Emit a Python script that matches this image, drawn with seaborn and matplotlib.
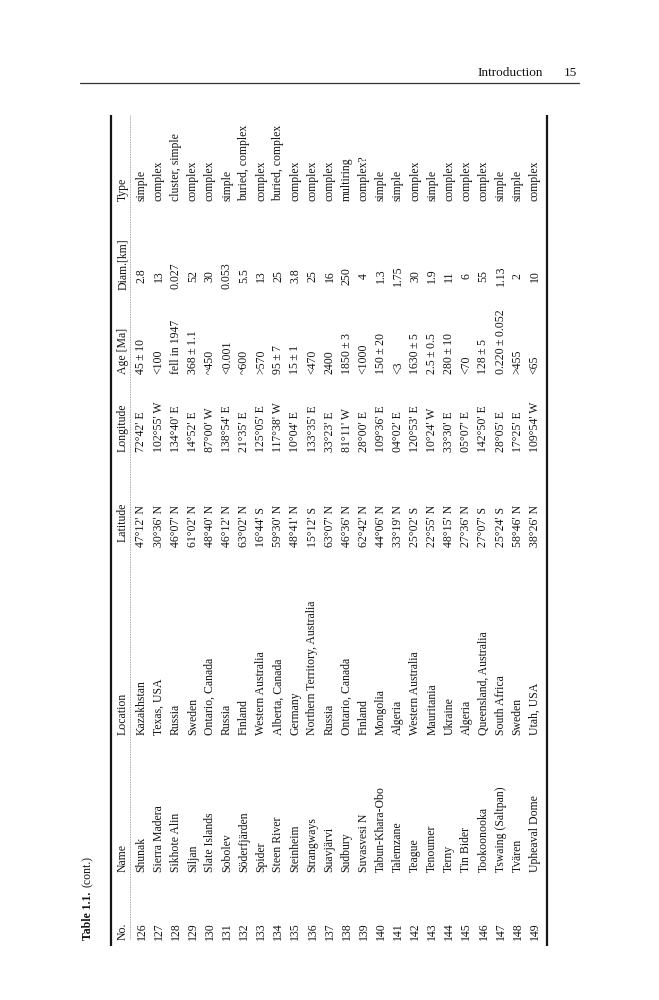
import numpy as np
import matplotlib
matplotlib.use("Agg")
import matplotlib.pyplot as plt
import seaborn as sns
import pandas as pd

# table 1.1 (cont.) -- impact craters, rows 126-149
nos = ["126", "127", "128", "129", "130", "131", "132", "133", "134", "135", "136", "137",
       "138", "139", "140", "141", "142", "143", "144", "145", "146", "147", "148", "149"]
names = ["Shunak", "Sierra Madera", "Sikhote Alin", "Siljan", "Slate Islands", "Sobolev",
         "Söderfjärden", "Spider", "Steen River", "Steinheim", "Strangways", "Suavjärvi",
         "Sudbury", "Suvasvesi N", "Tabun-Khara-Obo", "Talemzane", "Teague", "Tenoumer",
         "Terny", "Tin Bider", "Tookoonooka", "Tswaing (Saltpan)", "Tvären", "Upheaval Dome"]
locations = ["Kazakhstan", "Texas, USA", "Russia", "Sweden", "Ontario, Canada", "Russia",
             "Finland", "Western Australia", "Alberta, Canada", "Germany",
             "Northern Territory, Australia", "Russia", "Ontario, Canada", "Finland",
             "Mongolia", "Algeria", "Western Australia", "Mauritania", "Ukraine", "Algeria",
             "Queensland, Australia", "South Africa", "Sweden", "Utah, USA"]
latitudes = ["47°12' N", "30°36' N", "46°07' N", "61°02' N", "48°40' N", "46°12' N",
             "63°02' N", "16°44' S", "59°30' N", "48°41' N", "15°12' S", "63°07' N",
             "46°36' N", "62°42' N", "44°06' N", "33°19' N", "25°02' S", "22°55' N",
             "48°15' N", "27°36' N", "27°07' S", "25°24' S", "58°46' N", "38°26' N"]
longitudes = ["72°42' E", "102°55' W", "134°40' E", "14°52' E", "87°00' W", "138°54' E",
              "21°35' E", "125°05' E", "117°38' W", "10°04' E", "133°35' E", "33°23' E",
              "81°11' W", "28°00' E", "109°36' E", "04°02' E", "120°53' E", "10°24' W",
              "33°30' E", "05°07' E", "142°50' E", "28°05' E", "17°25' E", "109°54' W"]
ages = ["45 ± 10", "<100", "fell in 1947", "368 ± 1.1", "~450", "<0.001", "~600", ">570",
        "95 ± 7", "15 ± 1", "<470", "2400", "1850 ± 3", "<1000", "150 ± 20", "<3",
        "1630 ± 5", "2.5 ± 0.5", "280 ± 10", "<70", "128 ± 5", "0.220 ± 0.052", ">455", "<65"]
diams = ["2.8", "13", "0.027", "52", "30", "0.053", "5.5", "13", "25", "3.8", "25", "16",
         "250", "4", "1.3", "1.75", "30", "1.9", "11", "6", "55", "1.13", "2", "10"]
types = ["simple", "complex", "cluster, simple", "complex", "complex", "simple",
         "buried, complex", "complex", "buried, complex", "complex", "complex", "complex",
         "multiring", "complex?", "simple", "simple", "complex", "simple", "complex",
         "complex", "complex", "simple", "simple", "complex"]
headers = ["No.", "Name", "Location", "Latitude", "Longitude", "Age [Ma]", "Diam.[km]", "Type"]

df = pd.DataFrame({"No.": nos, "Name": names, "Location": locations, "Latitude": latitudes,
                   "Longitude": longitudes,
                   "Age [Ma]": [a.replace(" ± ", "\u2009±\u2009") for a in ages],
                   "Diam.[km]": diams, "Type": types})

sns.set_theme(style="white")
plt.rcParams['font.family'] = ['Liberation Serif', 'DejaVu Serif']
ink = '#151515'

fig = plt.figure(figsize=(6.59, 10), dpi=100)
ax = fig.add_axes([0, 0, 1, 1])
ax.set_xlim(0, 659)
ax.set_ylim(1000, 0)
ax.axis('off')

# page is rotated: columns run along y, rows along x
col_y = {"No.": 940, "Name": 872, "Location": 735, "Latitude": 547, "Longitude": 452,
         "Age [Ma]": 374, "Diam.[km]": 276, "Type": 201}
head_y = dict(col_y, **{"Latitude": 542, "Diam.[km]": 290})
fs = 8.5

for h in headers:
    ax.text(123, head_y[h], h, rotation=90, ha='center', va='bottom', fontsize=fs, color=ink)
for i in range(len(df)):
    x = 141.5 + i * 17.1
    for h in headers:
        va = 'center' if h == "Diam.[km]" else 'bottom'
        ax.text(x, col_y[h], df[h].iloc[i], rotation=90, ha='center', va=va,
                fontsize=fs, color=ink)

# rules
ax.plot([111, 111], [115, 946], color=ink, lw=1.6, solid_capstyle='butt')
ax.plot([547, 547], [115, 946], color=ink, lw=1.6, solid_capstyle='butt')
ax.plot([130, 130], [115, 940], color='#888888', lw=0.6, ls=(0, (1, 1)))
ax.plot([80, 579], [83, 83], color='#333333', lw=0.9)

# caption
ax.text(88, 940, "Table 1.1.", rotation=90, ha='center', va='bottom', fontsize=8.5,
        fontweight='bold', color=ink)
ax.text(88, 887, "(cont.)", rotation=90, ha='center', va='bottom', fontsize=8.5, color=ink)

# running head
ax.text(543, 76, "Introduction", ha='right', va='baseline', fontsize=9.5, color=ink)
ax.text(577, 76, "15", ha='right', va='baseline', fontsize=9.5, color=ink)

fig.savefig("out.png", dpi=100, facecolor='white')
